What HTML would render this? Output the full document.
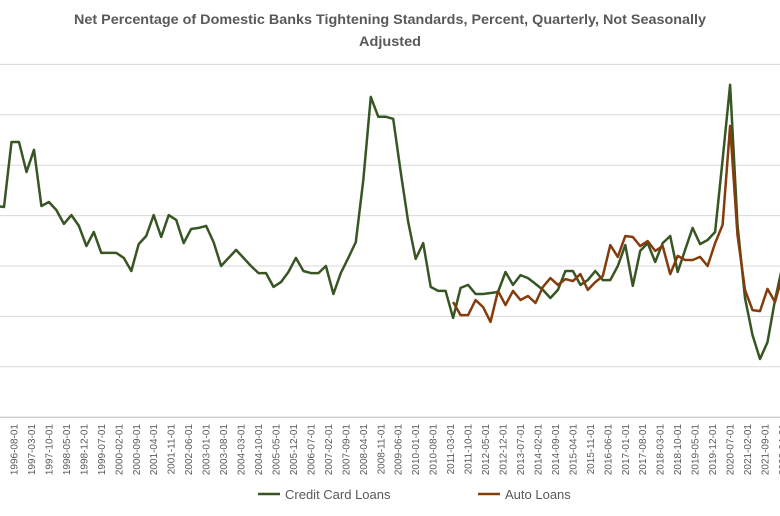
<!DOCTYPE html>
<html><head><meta charset="utf-8"><style>
html,body{margin:0;padding:0;background:#fff;}
svg{display:block;font-family:"Liberation Sans",sans-serif;}
</style></head><body>
<svg id="chart" width="780" height="516" viewBox="0 0 780 516" xmlns="http://www.w3.org/2000/svg">
<rect width="780" height="516" fill="#fff"/>
<text x="390" y="24" text-anchor="middle" font-size="14" font-weight="bold" fill="#595959" textLength="632" lengthAdjust="spacingAndGlyphs">Net Percentage of Domestic Banks Tightening Standards, Percent, Quarterly, Not Seasonally</text>
<text x="390" y="46" text-anchor="middle" font-size="14" font-weight="bold" fill="#595959" textLength="62" lengthAdjust="spacingAndGlyphs">Adjusted</text>
<g id="grid"></g>
<g id="xlabels"></g>
<g id="series"></g>
<g>
<line x1="258" y1="494" x2="280" y2="494" stroke="#375623" stroke-width="2.5"/>
<text x="285" y="499" font-size="13" fill="#595959">Credit Card Loans</text>
<line x1="478" y1="494" x2="500" y2="494" stroke="#843C0C" stroke-width="2.5"/>
<text x="505" y="499" font-size="13" fill="#595959">Auto Loans</text>
</g>
</svg>
<script>
const gridValues = [80, 60, 40, 20, 0, -20, -40, -60];
const creditCard = [23.8,23.4,49.2,49.2,37.3,46.1,23.8,25.4,22.2,16.7,20.2,15.9,7.9,13.5,5.2,5.2,5.2,3.2,-2.0,8.7,11.9,20.2,11.5,20.2,18.3,9.1,14.7,15.1,15.9,9.5,0,3.2,6.4,3.2,0,-2.8,-2.8,-8.3,-6.4,-2.4,3.2,-2.0,-2.8,-2.8,0,-11.1,-2.8,3.2,9.5,34.1,67.1,59.2,59.2,58.4,37.3,17.5,2.8,9.1,-8.3,-9.9,-9.9,-20.6,-8.7,-7.5,-11.1,-11.1,-10.7,-10.3,-2.4,-7.5,-3.6,-4.8,-7.1,-9.5,-12.7,-9.5,-2.0,-2.0,-7.5,-5.6,-2.0,-5.6,-5.6,0,8.3,-7.9,6.0,9.1,1.6,9.1,11.9,-2.4,6.4,15.1,8.7,10.3,13.5,42.1,71.9,16.3,-12.7,-27.4,-36.9,-30.2,-13.5,0];
const autoStart = 61;
const autoLoans = [-14.3,-19.5,-19.5,-13.5,-16.3,-22.2,-9.9,-15.5,-9.9,-13.5,-11.9,-14.7,-8.3,-4.8,-7.5,-5.2,-6.0,-3.2,-9.5,-6.4,-4.0,8.3,3.6,11.9,11.5,7.9,9.9,6.0,7.9,-3.2,4.0,2.4,2.4,3.6,0,9.1,16.3,55.6,12.3,-9.5,-17.5,-17.9,-9.1,-14.3,-3.6];
const labelStart = [1996, 8];
const labelStepMonths = 7;
const labelCount = 45;

const NS = 'http://www.w3.org/2000/svg';
function yScale(v){ return 266 - v / 20 * 50.4; }
function xQuarter(q){ return -3.47 + q * 7.485; }
function xMonth(m){ return 14 + (m - 7) * 2.495; }

const grid = document.getElementById('grid');
gridValues.forEach(v => {
  const l = document.createElementNS(NS, 'line');
  
  
  l.setAttribute('x1', 0); l.setAttribute('x2', 780);
  l.setAttribute('y1', yScale(v)); l.setAttribute('y2', yScale(v));
  l.setAttribute('stroke', v === -60 ? '#bfbfbf' : '#d9d9d9');
  l.setAttribute('stroke-width', 1);
  grid.appendChild(l);
});

const xl = document.getElementById('xlabels');
for (let i = 0; i < labelCount; i++) {
  let total = (labelStart[0] * 12 + labelStart[1] - 1) + i * labelStepMonths;
  const yr = Math.floor(total / 12), mo = total % 12 + 1;
  const m = (yr - 1996) * 12 + (mo - 1);
  const x = xMonth(m);
  if (x > 790) break;
  const t = document.createElementNS(NS, 'text');
  
  
  t.setAttribute('transform', 'translate(' + (x + 3.5) + ',424) rotate(-90)');
  t.setAttribute('text-anchor', 'end');
  t.setAttribute('font-size', '10');
  t.setAttribute('fill', '#595959');
  t.textContent = yr + '-' + String(mo).padStart(2, '0') + '-01';
  xl.appendChild(t);
}

const series = document.getElementById('series');
function addLine(vals, start, color, name){
  const pts = vals.map((v, i) => xQuarter(start + i).toFixed(1) + ',' + yScale(v).toFixed(1)).join(' ');
  const p = document.createElementNS(NS, 'polyline');
  
  
  p.setAttribute('points', pts);
  p.setAttribute('fill', 'none');
  p.setAttribute('stroke', color);
  p.setAttribute('stroke-width', '2.5');
  p.setAttribute('stroke-linejoin', 'round');
  series.appendChild(p);
}
addLine(creditCard, 0, '#375623', 'credit-card-line');
addLine(autoLoans, autoStart, '#843C0C', 'auto-loans-line');
</script>
</body></html>
